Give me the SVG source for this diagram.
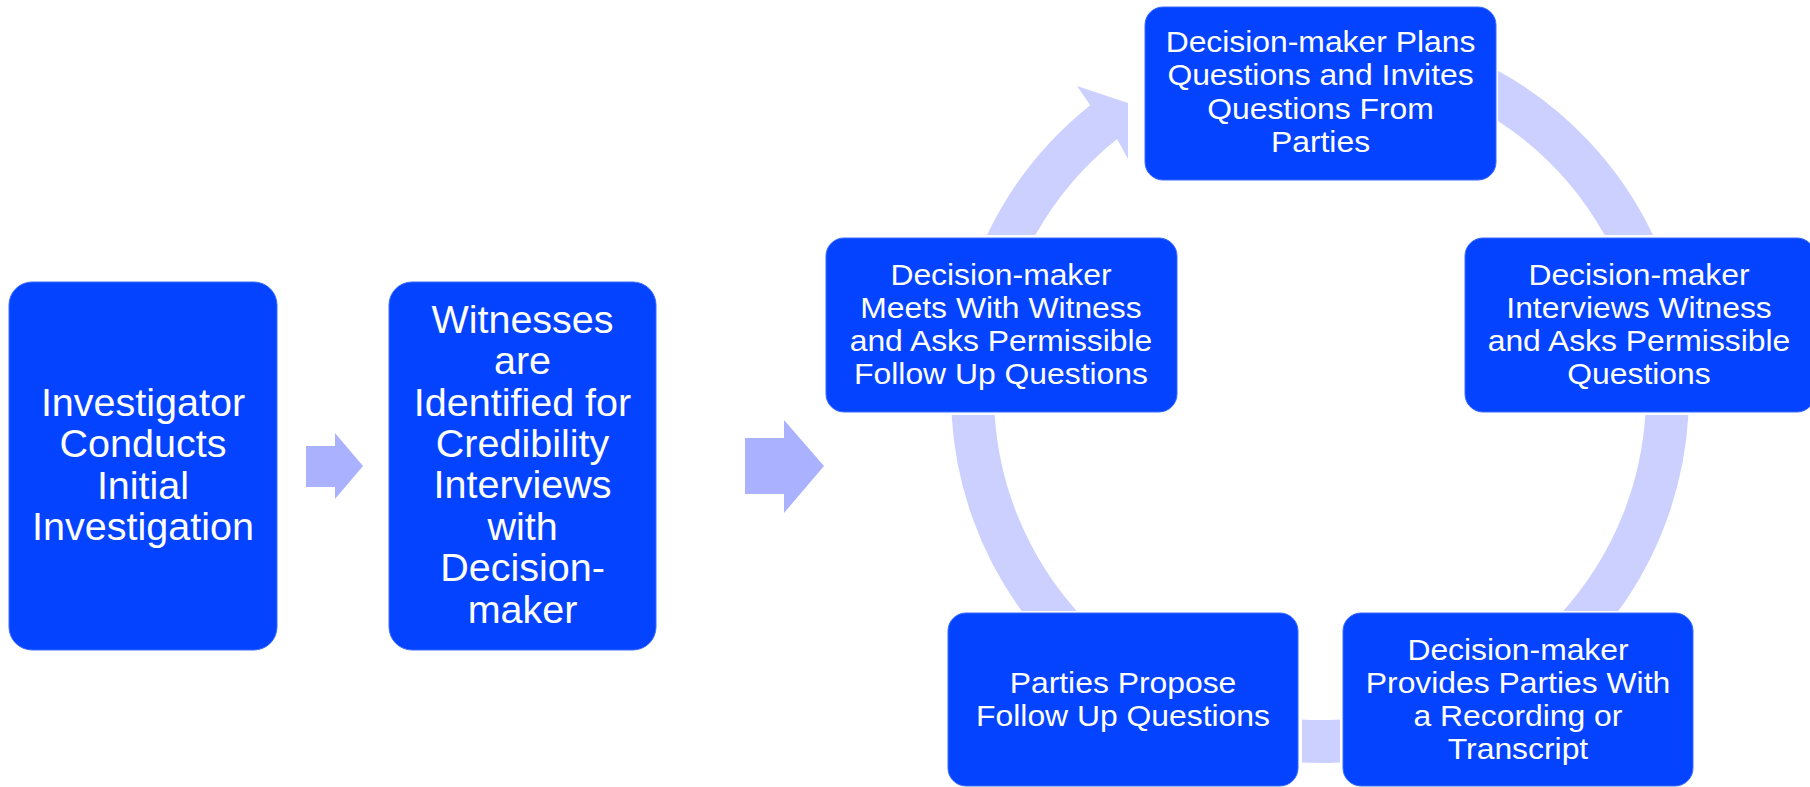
<svg xmlns="http://www.w3.org/2000/svg" width="1810" height="787" viewBox="0 0 1810 787">
<style>
.box{fill:#0443ff;stroke:#3b6cff;stroke-width:1}
.big{font-family:"Liberation Sans",Arial,sans-serif;font-size:39.5px;fill:#ffffff;text-anchor:middle}
.sm{font-family:"Liberation Sans",Arial,sans-serif;font-size:29.5px;fill:#ffffff;text-anchor:middle}
.flow{fill:#aab2ff}
.ring{fill:#ccd0ff}
</style>
<rect width="1810" height="787" fill="#ffffff"/>
<g id="connectors">
<path class="flow" d="M306,446 L335,446 L335,433 L363,466 L335,499 L335,487 L306,487 Z"/>
<path class="flow" d="M745,438 L784,438 L784,420 L824,466 L784,513 L784,494 L745,494 Z"/>
<path class="ring" d="M1498,70.8 A369,369 0 0 1 1653,235 L1604.6,235 A326,326 0 0 0 1498,120.9 Z"/>
<path class="ring" d="M1688.4,415 A369,369 0 0 1 1618.4,611 L1563.3,611 A326,326 0 0 0 1645.3,415 Z"/>
<path class="ring" d="M1340,762.5 A369,369 0 0 1 1302,762.6 L1302,719.5 A326,326 0 0 0 1340,719.4 Z"/>
<path class="ring" d="M1021.6,611 A369,369 0 0 1 951.6,415 L994.7,415 A326,326 0 0 0 1076.7,611 Z"/>
<path class="ring" d="M987,235 A369,369 0 0 1 1090.3,105.2 L1077,86 L1128,103 L1128,159 L1117.1,138.9 A326,326 0 0 0 1035.4,235 Z"/>
</g>
<g id="n1">
<rect class="box" x="9" y="282" width="268" height="368" rx="23" ry="23"/>
<text class="big" x="143"><tspan x="143" y="415.7">Investigator</tspan><tspan x="143" y="457.1">Conducts</tspan><tspan x="143" y="498.5">Initial</tspan><tspan x="143" y="539.9">Investigation</tspan></text>
</g>
<g id="n2">
<rect class="box" x="389" y="282" width="267" height="368" rx="23" ry="23"/>
<text class="big" x="522.5"><tspan x="522.5" y="332.8">Witnesses</tspan><tspan x="522.5" y="374.2">are</tspan><tspan x="522.5" y="415.6">Identified for</tspan><tspan x="522.5" y="457">Credibility</tspan><tspan x="522.5" y="498.4">Interviews</tspan><tspan x="522.5" y="539.8">with</tspan><tspan x="522.5" y="581.2">Decision-</tspan><tspan x="522.5" y="622.6">maker</tspan></text>
</g>
<g id="c1">
<rect class="box" x="1145" y="7" width="351" height="173" rx="18" ry="18"/>
<text class="sm" transform="translate(1320.5,0) scale(1.08,1)"><tspan x="0" y="52.3">Decision-maker Plans</tspan><tspan x="0" y="85.5">Questions and Invites</tspan><tspan x="0" y="118.7">Questions From</tspan><tspan x="0" y="151.9">Parties</tspan></text>
</g>
<g id="c2">
<rect class="box" x="1465" y="238" width="350" height="174" rx="18" ry="18"/>
<text class="sm" transform="translate(1639,0) scale(1.08,1)"><tspan x="0" y="285">Decision-maker</tspan><tspan x="0" y="318">Interviews Witness</tspan><tspan x="0" y="351">and Asks Permissible</tspan><tspan x="0" y="384">Questions</tspan></text>
</g>
<g id="c3">
<rect class="box" x="1343" y="613" width="350" height="173" rx="18" ry="18"/>
<text class="sm" transform="translate(1518,0) scale(1.08,1)"><tspan x="0" y="660">Decision-maker</tspan><tspan x="0" y="693.1">Provides Parties With</tspan><tspan x="0" y="726.2">a Recording or</tspan><tspan x="0" y="759.3">Transcript</tspan></text>
</g>
<g id="c4">
<rect class="box" x="948" y="613" width="350" height="173" rx="18" ry="18"/>
<text class="sm" transform="translate(1123,0) scale(1.08,1)"><tspan x="0" y="693">Parties Propose</tspan><tspan x="0" y="726.5">Follow Up Questions</tspan></text>
</g>
<g id="c5">
<rect class="box" x="826" y="238" width="351" height="174" rx="18" ry="18"/>
<text class="sm" transform="translate(1001,0) scale(1.08,1)"><tspan x="0" y="285">Decision-maker</tspan><tspan x="0" y="318">Meets With Witness</tspan><tspan x="0" y="351">and Asks Permissible</tspan><tspan x="0" y="384">Follow Up Questions</tspan></text>
</g>
</svg>
